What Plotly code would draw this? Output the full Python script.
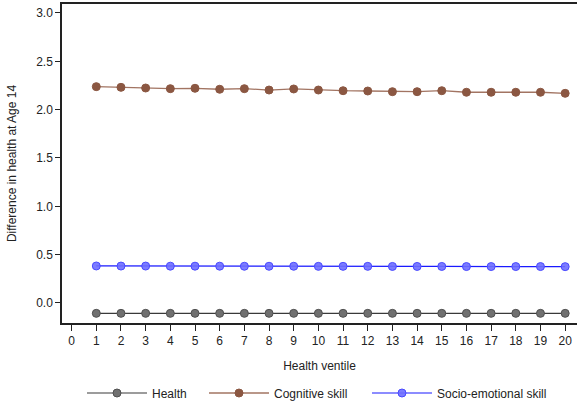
import plotly.graph_objects as go

ventile = list(range(1, 21))
health = [-0.107] * 20
cognitive = [2.238, 2.231, 2.224, 2.217, 2.221, 2.211, 2.217, 2.203, 2.214, 2.203,
             2.196, 2.193, 2.186, 2.186, 2.196, 2.180, 2.180, 2.180, 2.180, 2.169]
socio = [0.383, 0.382, 0.382, 0.381, 0.381, 0.381, 0.380, 0.380, 0.380, 0.379,
         0.379, 0.379, 0.378, 0.378, 0.378, 0.377, 0.377, 0.377, 0.377, 0.376]
x_ticks = list(range(0, 21))
y_ticks = [0.0, 0.5, 1.0, 1.5, 2.0, 2.5, 3.0]

font = "Liberation Sans, Arial, sans-serif"

fig = go.Figure()
fig.add_trace(go.Scatter(
    x=ventile, y=health, name="Health", mode="lines+markers", legend="legend",
    showlegend=True,
    line=dict(color="#3a3a3a", width=1.2),
    marker=dict(size=8, color="#707070", line=dict(color="#505050", width=1)),
))
fig.add_trace(go.Scatter(
    x=ventile, y=cognitive, name="Cognitive skill", mode="lines+markers", legend="legend2",
    showlegend=True,
    line=dict(color="#a27462", width=1.3),
    marker=dict(size=8, color="#8b5742", line=dict(color="#8b5742", width=1)),
))
fig.add_trace(go.Scatter(
    x=ventile, y=socio, name="Socio-emotional skill", mode="lines+markers", legend="legend3",
    showlegend=True,
    line=dict(color="#1a1aff", width=1.2),
    marker=dict(size=8, color="rgba(110,110,255,0.9)", line=dict(color="#4a4aff", width=1)),
))


def bottom_legend(left_px):
    return dict(orientation="h", xref="container", yref="container",
                x=left_px / 577, xanchor="left", y=10 / 403, yanchor="middle",
                font=dict(size=12), itemwidth=60, bgcolor="rgba(0,0,0,0)")


fig.update_layout(
    width=577, height=403,
    showlegend=True,
    margin=dict(l=62, r=0, t=4, b=80, autoexpand=False),
    paper_bgcolor="white", plot_bgcolor="white",
    font=dict(family=font, size=12, color="#222222"),
    legend=bottom_legend(82),
    legend2=bottom_legend(204),
    legend3=bottom_legend(367),
    xaxis=dict(
        range=[-0.39, 20.48], tickmode="array", tickvals=x_ticks,
        ticktext=[str(v) for v in x_ticks],
        showline=True, linecolor="#222222", linewidth=1.5, mirror=True,
        ticks="outside", ticklen=6, tickcolor="#222222", showgrid=False, zeroline=False,
        title=dict(text="Health ventile", font=dict(size=12), standoff=14),
        tickfont=dict(size=12),
    ),
    yaxis=dict(
        range=[-0.207, 3.093], tickmode="array", tickvals=y_ticks,
        ticktext=[f"{v:.1f}" for v in y_ticks],
        showline=True, linecolor="#222222", linewidth=1.5,
        ticks="outside", ticklen=5, tickcolor="#222222", showgrid=False, zeroline=False,
        title=dict(text="Difference in health at Age 14", font=dict(size=12), standoff=17),
        tickfont=dict(size=12),
    ),
)

fig.write_html("out.html")
